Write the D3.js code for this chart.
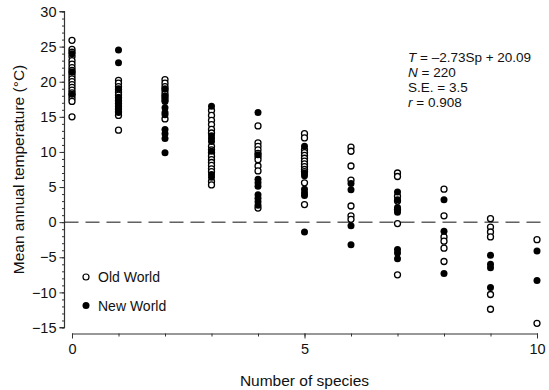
<!DOCTYPE html>
<html>
<head>
<meta charset="utf-8">
<script src="https://cdn.jsdelivr.net/npm/d3@7"></script>
<style>
  body { margin: 0; background: #fff; }
  svg text { font-family: "Liberation Sans", Arial, Helvetica, sans-serif; fill: #111; }
</style>
</head>
<body>
<div id="chart"></div>
<script>
// number of species (x categories)
var species = [0, 1, 2, 3, 4, 5, 6, 7, 8, 9, 10];

// mean annual temperature (°C) of each point, one list per species count
var oldWorld = [
  [25.9, 24.6, 24.2, 23.6, 23.0, 22.5, 22.0, 21.6, 21.2, 20.8, 20.4, 20.0, 19.6, 19.2, 18.8, 18.4, 18.0, 17.6, 17.2, 15.0],
  [20.2, 19.8, 19.3, 18.9, 18.5, 18.1, 17.7, 17.3, 16.9, 16.5, 16.1, 15.7, 15.2, 13.1],
  [20.3, 19.8, 19.3, 18.8, 18.3, 17.8, 17.4, 14.7],
  [15.9, 15.2, 14.5, 13.9, 13.2, 12.7, 10.8, 10.3, 9.9, 9.4, 8.9, 8.5, 8.1, 7.6, 7.2, 5.8, 5.3],
  [13.7, 11.3, 10.8, 10.3, 9.8, 9.3, 8.9, 8.0, 7.3, 2.0],
  [12.6, 12.0, 10.3, 9.9, 9.5, 9.1, 8.7, 8.3, 7.9, 7.5, 7.2, 5.6, 2.5],
  [10.7, 10.1, 8.0, 6.0, 2.3, 0.9, 0.4],
  [7.0, 6.5, 3.7, 3.0, 1.8, -0.2, -7.5],
  [4.7, 0.9, -2.1, -2.7, -3.7, -5.6],
  [0.5, -0.7, -1.4, -2.1, -10.3, -12.4],
  [-2.5, -14.4]
];

var newWorld = [
  [24.0, 21.4, 18.2],
  [24.5, 22.7, 19.0, 17.8, 17.0, 16.4, 15.6],
  [19.0, 18.0, 17.2, 16.3, 15.6, 15.3, 13.2, 12.6, 11.9, 9.9],
  [16.5, 12.3, 11.9, 11.5, 10.1, 6.8, 6.4],
  [15.6, 9.6, 6.1, 5.6, 5.1, 3.9, 3.4, 2.9, 2.4],
  [10.8, 7.0, 6.6, 4.7, 4.2, 3.8, -1.4],
  [5.5, 4.6, -0.5, -3.2],
  [4.3, 3.2, 2.1, 1.4, -3.9, -4.4, -5.2],
  [3.2, -1.3, -7.3],
  [-4.7, -6.0, -6.5, -9.3],
  [-4.1, -8.3]
];

var yTicks = [-15, -10, -5, 0, 5, 10, 15, 20, 25, 30];
var xTicks = [0, 5, 10];

var svgWidth = 549,
    svgHeight = 390;

var svg = d3.select('#chart')
  .append('svg')
  .attr('width', svgWidth)
  .attr('height', svgHeight);

var xScale = d3.scaleLinear().domain([0, 10]).range([72, 537]);
var yScale = d3.scaleLinear().domain([-15, 30]).range([327.5, 11.5]);

var axisY = 64.5,
    baseX = 333.5;

// y axis: major ticks every 5, minor every 1
var yAxis = svg.append('g')
  .attr('transform', `translate(${axisY},0)`)
  .call(d3.axisLeft(yScale).tickValues(yTicks).tickSize(5).tickPadding(3));

svg.append('g')
  .attr('transform', `translate(${axisY},0)`)
  .call(d3.axisLeft(yScale).tickValues(d3.range(-15, 31, 1)).tickSize(2.5).tickFormat(''))
  .select('.domain').remove();

// x axis: ticks at every integer, labels at 0, 5, 10
var xAxis = svg.append('g')
  .attr('transform', `translate(0,${baseX})`)
  .call(d3.axisBottom(xScale).tickValues(xTicks).tickSize(5).tickPadding(5).tickSizeOuter(0));

svg.append('g')
  .attr('transform', `translate(0,${baseX})`)
  .call(d3.axisBottom(xScale).tickValues(species).tickSize(3).tickFormat('').tickSizeOuter(0))
  .select('.domain').remove();

svg.selectAll('.domain').attr('stroke', '#333').attr('stroke-width', 1.2);
yAxis.select('.domain').attr('d', `M-5,${yScale(30)}H0V${yScale(-15)}H-5`);
svg.selectAll('.tick line').attr('stroke', '#333');
svg.selectAll('.tick text').attr('font-size', 14.5).attr('fill', '#111');

// zero line
svg.append('line')
  .attr('x1', axisY)
  .attr('x2', xScale(10) + 4)
  .attr('y1', yScale(0))
  .attr('y2', yScale(0))
  .attr('stroke', '#111')
  .attr('stroke-width', 1)
  .attr('stroke-dasharray', '14,7');

// points
function flatten(groups) {
  var out = [];
  groups.forEach((vals, i) => vals.forEach(v => out.push({ sp: species[i], t: v })));
  return out;
}

svg.append('g').selectAll('circle')
  .data(flatten(oldWorld))
  .enter()
  .append('circle')
  .attr('cx', d => xScale(d.sp))
  .attr('cy', d => yScale(d.t))
  .attr('r', 3)
  .attr('fill', '#fff')
  .attr('stroke', '#000')
  .attr('stroke-width', 1.3);

svg.append('g').selectAll('circle')
  .data(flatten(newWorld))
  .enter()
  .append('circle')
  .attr('cx', d => xScale(d.sp))
  .attr('cy', d => yScale(d.t))
  .attr('r', 3.5)
  .attr('fill', '#000');

// axis titles
svg.append('text')
  .attr('x', xScale(5))
  .attr('y', 386)
  .attr('text-anchor', 'middle')
  .attr('font-size', 15.5)
  .text('Number of species');

svg.append('text')
  .attr('transform', `translate(24,${(yScale(30) + yScale(-15)) / 2})rotate(-90)`)
  .attr('text-anchor', 'middle')
  .attr('font-size', 15.5)
  .text('Mean annual temperature  (°C)');

// legend
var legend = svg.append('g');
legend.append('circle').attr('cx', 86).attr('cy', 277).attr('r', 3)
  .attr('fill', '#fff').attr('stroke', '#000').attr('stroke-width', 1.2);
legend.append('text').attr('x', 98).attr('y', 282).attr('font-size', 14).text('Old World');
legend.append('circle').attr('cx', 86).attr('cy', 305.5).attr('r', 3.5).attr('fill', '#000');
legend.append('text').attr('x', 98).attr('y', 310.5).attr('font-size', 14).text('New World');

// regression stats
var stats = [
  [['T', true], [' = –2.73Sp + 20.09', false]],
  [['N', true], [' = 220', false]],
  [['S.E. = 3.5', false]],
  [['r', true], [' = 0.908', false]]
];
stats.forEach((parts, i) => {
  var t = svg.append('text')
    .attr('x', 408)
    .attr('y', 62 + i * 15)
    .attr('font-size', 13.5);
  parts.forEach(p => {
    t.append('tspan')
      .attr('font-style', p[1] ? 'italic' : 'normal')
      .text(p[0]);
  });
});
</script>
</body>
</html>
